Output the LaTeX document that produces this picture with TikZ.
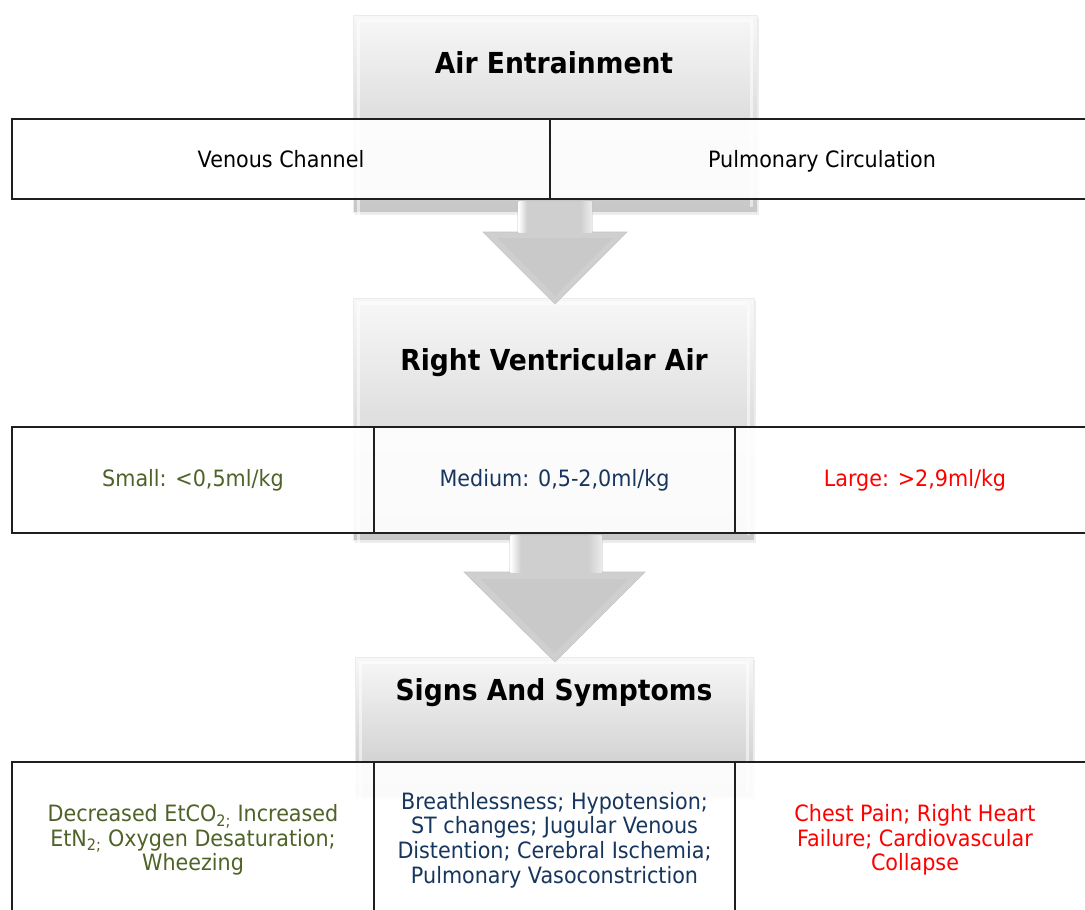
\documentclass[tikz,border=0pt]{standalone}
\usepackage{fontspec}
\setmainfont{DejaVu Sans}[FakeStretch=0.92]
\usetikzlibrary{shadows}
\definecolor{olivegreen}{HTML}{4F6228}
\definecolor{navyblue}{HTML}{17365D}
\definecolor{brightred}{HTML}{FF0000}
\begin{document}
\begin{tikzpicture}[x=1pt,y=-1pt,
  titlebox/.style={rectangle, inner sep=0pt, top color=black!3, bottom color=black!22,
    draw=black!8, line width=1pt,
    drop shadow={shadow xshift=2pt, shadow yshift=-3pt, opacity=0.14}},
  bevel/.style={draw=white, line width=2.5pt, opacity=0.55},
  titletext/.style={font=\fontsize{28.9}{31}\selectfont\bfseries, text=black, inner sep=0pt, anchor=base},
  cell/.style={rectangle, draw=black!88, line width=2pt, fill=white, fill opacity=0.92,
    text opacity=1, inner sep=0pt, align=center, font=\fontsize{22.5}{24.6}\selectfont},
  singleline/.style={text depth=0pt},
  blockarrow/.style={fill=black!19, draw=black!23, line width=0.6pt},
  headbevel/.style={fill=black!21, draw=none},
  hlleft/.style={left color=white, right color=black!19, draw=none},
  hlright/.style={left color=black!19, right color=black!8, draw=none}
]
\useasboundingbox (0,0) rectangle (1085,910);

% title boxes
\node[titlebox, minimum width=404, minimum height=197] (t1) at (555,113.5) {};
\node[titlebox, minimum width=401, minimum height=242] (t2) at (553.5,419) {};
\node[titlebox, minimum width=398, minimum height=140] (t3) at (554,727) {};
\draw[bevel] ([shift={(6pt,-6pt)}]t1.south west) -- ([shift={(6pt,-6pt)}]t1.north west) -- ([shift={(-6pt,-6pt)}]t1.north east) -- ([shift={(-6pt,6pt)}]t1.south east);
\draw[bevel] ([shift={(6pt,-6pt)}]t2.south west) -- ([shift={(6pt,-6pt)}]t2.north west) -- ([shift={(-6pt,-6pt)}]t2.north east) -- ([shift={(-6pt,6pt)}]t2.south east);
\draw[bevel] ([shift={(6pt,-6pt)}]t3.south west) -- ([shift={(6pt,-6pt)}]t3.north west) -- ([shift={(-6pt,-6pt)}]t3.north east) -- ([shift={(-6pt,6pt)}]t3.south east);
\node[titletext] (t1l) at (554,73) {Air Entrainment};
\node[titletext] (t2l) at (554,370) {Right Ventricular Air};
\node[titletext] (t3l) at (554,700) {Signs And Symptoms};

% row 1
\node[cell, singleline, minimum width=538, minimum height=80] (vc) at (281,159) {Venous Channel};
\node[cell, singleline, minimum width=544, minimum height=80] (pc) at (822,159) {Pulmonary Circulation};

% row 2
\node[cell, minimum width=362, minimum height=106, text=olivegreen] (sm) at (193,480) {Small: <0,5ml/kg};
\node[cell, minimum width=361, minimum height=106, text=navyblue] (md) at (554.5,480) {Medium: 0,5-2,0ml/kg};
\node[cell, minimum width=360, minimum height=106, text=brightred] (lg) at (915,480) {Large: >2,9ml/kg};

% row 3
\node[cell, minimum width=362, minimum height=156, text=olivegreen] (ss) at (193,840)
  {Decreased EtCO\textsubscript{2;} Increased\\EtN\textsubscript{2;} Oxygen Desaturation;\\Wheezing};
\node[cell, minimum width=361, minimum height=156, text=navyblue] (sd) at (554.5,840)
  {Breathlessness; Hypotension;\\ST changes; Jugular Venous\\Distention; Cerebral Ischemia;\\Pulmonary Vasoconstriction};
\node[cell, minimum width=360, minimum height=156, text=brightred] (sl) at (915,840)
  {Chest Pain; Right Heart\\Failure; Cardiovascular\\Collapse};

% block arrow 1
\path[blockarrow] (518,201) -- (592,201) -- (592,232) -- (627,232) -- (555,304)
  -- (483,232) -- (518,232) -- cycle;
\path[headbevel] (497,238) -- (613,238) -- (555,296) -- cycle;
\path[hlleft] (518.5,201) rectangle (527,232);
\path[hlright] (580,201) rectangle (591.5,232);
% block arrow 2
\path[blockarrow] (510,535) -- (602,535) -- (602,572) -- (645,572) -- (555,662)
  -- (464,572) -- (510,572) -- cycle;
\path[headbevel] (481,579) -- (628,579) -- (555,653) -- cycle;
\path[hlleft] (510.5,535) rectangle (521,572);
\path[hlright] (588,535) rectangle (601.5,572);
\end{tikzpicture}
\end{document}
